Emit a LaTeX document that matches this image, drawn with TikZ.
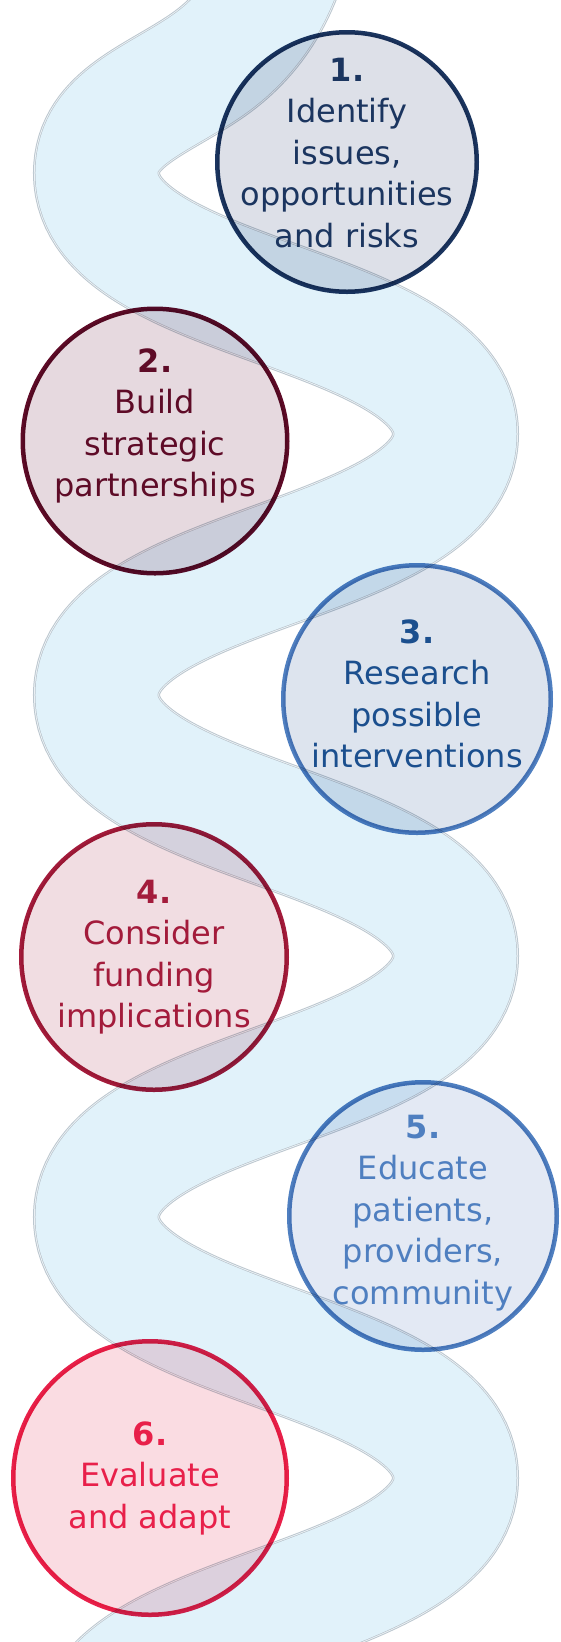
\documentclass[tikz,border=0pt]{standalone}
\usepackage{fontspec}
\setmainfont{DejaVu Sans}
\definecolor{ribbonfill}{HTML}{E1F2FA}
\definecolor{ribbonedge}{HTML}{BCC7CF}
\definecolor{ribbongap}{HTML}{F2F7FA}
\definecolor{navyline}{HTML}{1B355F}
\definecolor{navyfill}{HTML}{DDE0E8}
\definecolor{maroonline}{HTML}{5E0B27}
\definecolor{maroonfill}{HTML}{E6D9DF}
\definecolor{steelline}{HTML}{4F7FC0}
\definecolor{steeltext}{HTML}{1B4F8E}
\definecolor{steelfill}{HTML}{DDE4EE}
\definecolor{crimsonline}{HTML}{A31B3B}
\definecolor{crimsonfill}{HTML}{F1DDE2}
\definecolor{skyfill}{HTML}{E3E9F4}
\definecolor{redline}{HTML}{E8204A}
\definecolor{redfill}{HTML}{FADCE2}
\tikzset{
  stepcircle/.style={circle, inner sep=0pt, line width=4.5pt, blend mode=multiply},
  steptext/.style={align=center, inner sep=0pt, font=\fontsize{32}{41.5}\selectfont},
  stepone/.style={stepcircle, minimum size=259.5pt, draw=navyline, fill=navyfill},
  steptwo/.style={stepcircle, minimum size=264.5pt, draw=maroonline, fill=maroonfill},
  stepthree/.style={stepcircle, minimum size=267.5pt, draw=steelline, fill=steelfill},
  stepfour/.style={stepcircle, minimum size=265.5pt, draw=crimsonline, fill=crimsonfill},
  stepfive/.style={stepcircle, minimum size=267.5pt, draw=steelline, fill=skyfill},
  stepsix/.style={stepcircle, minimum size=273.5pt, draw=redline, fill=redfill}
}
\begin{document}
\begin{tikzpicture}[x=1pt, y=-1pt]
  \useasboundingbox (0,0) rectangle (561,1642);
  \clip (0,0) rectangle (561,1642);

  % リボンの中心線
  \path[save path=\ribbon] (293,-80) .. controls (283,-20) and (258,30) .. (208,65)
    .. controls (158,100) and (96.5,118) .. (96.5,173)
    \foreach \k in {0,1,2} {
      .. controls (96.5,303+522*\k) and (455.5,304+522*\k) .. (455.5,434+522*\k)
      .. controls (455.5,564+522*\k) and (96.5,565+522*\k) .. (96.5,695+522*\k)
    };

  % リボン（二重の縁取り）
  \draw[use path=\ribbon, draw=ribbonedge, line width=127pt];
  \draw[use path=\ribbon, draw=ribbongap, line width=125pt];
  \draw[use path=\ribbon, draw=ribbonedge, line width=123.5pt];
  \draw[use path=\ribbon, draw=ribbonfill, line width=122pt];

  % 円
  \node[stepone] (step1) at (347,162) {};
  \node[steptwo] (step2) at (155,441) {};
  \node[stepthree] (step3) at (417,699) {};
  \node[stepfour] (step4) at (154,957) {};
  \node[stepfive] (step5) at (423,1216) {};
  \node[stepsix] (step6) at (150,1478) {};

  % 文字
  \node[steptext, text=navyline] (text1) at ([yshift=9pt]step1.center) {\textbf{1.}\\Identify\\issues,\\opportunities\\and risks};
  \node[steptext, text=maroonline] (text2) at ([yshift=15pt]step2.center) {\textbf{2.}\\Build\\strategic\\partnerships};
  \node[steptext, text=steeltext] (text3) at ([yshift=5pt]step3.center) {\textbf{3.}\\Research\\possible\\interventions};
  \node[steptext, text=crimsonline] (text4) at (step4) {\textbf{4.}\\Consider\\funding\\implications};
  \node[steptext, text=steelline] (text5) at ([yshift=3pt]step5.center) {\textbf{5.}\\Educate\\patients,\\providers,\\community};
  \node[steptext, text=redline] (text6) at (step6) {\textbf{6.}\\Evaluate\\and adapt};
\end{tikzpicture}
\end{document}
